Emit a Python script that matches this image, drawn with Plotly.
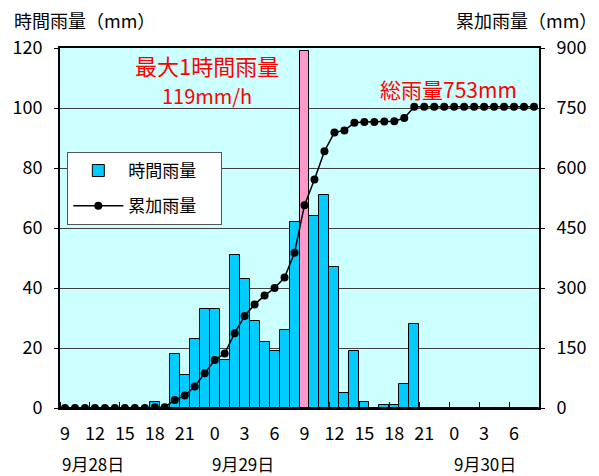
import plotly.graph_objects as go

# ---- data ----
hour_labels = ["9", "12", "15", "18", "21", "0", "3", "6",
               "9", "12", "15", "18", "21", "0", "3", "6"]
date_labels = ["9月28日", "9月29日", "9月30日"]

# hourly rainfall (mm), 48 hours from 9/28 9時 to 9/30 8時
hourly = [0, 0, 0, 0, 0, 0, 0, 0, 0, 2,
          0, 18, 11, 23, 33, 33, 16, 51, 43, 29,
          22, 19, 26, 62, 119, 64, 71, 47, 5, 19,
          2, 0, 1, 1, 8, 28, 0, 0, 0, 0,
          0, 0, 0, 0, 0, 0, 0, 0]

# cumulative rainfall (mm)
cumulative = [0, 0, 0, 0, 0, 0, 0, 0, 0, 2,
              2, 20, 31, 54, 87, 120, 136, 187, 230, 259,
              281, 300, 326, 388, 507, 571, 642, 689, 694, 713,
              715, 715, 716, 717, 725, 753, 753, 753, 753, 753,
              753, 753, 753, 753, 753, 753, 753, 753]

max_index = 24
idx = list(range(len(hourly)))

# ---- layout helpers (pixel -> paper) ----
W, H = 599, 476
L, R, T, B = 57.5, 548, 48, 408


def px(x):
    return (x - L) / (R - L)


def py(y):
    return (B - y) / (B - T)


FONT = "Noto Sans CJK JP, Noto Sans, sans-serif"
NB = "\u00a0"

bar_colors = ["#FF99CC" if i == max_index else "#00CCFF" for i in idx]

fig = go.Figure()
fig.add_trace(go.Bar(
    x=idx, y=hourly, name="時間雨量" + NB * 5,
    marker=dict(color=bar_colors, line=dict(color="black", width=1)),
    width=1.0, legendgroup="a",
))
fig.add_trace(go.Scatter(
    x=idx, y=cumulative, name="累加雨量" + NB * 5, yaxis="y2",
    mode="lines+markers",
    line=dict(color="black", width=1.5),
    marker=dict(color="black", size=8),
    legendgroup="b",
))

fig.update_layout(
    width=W, height=H,
    margin=dict(l=L, r=W - R, t=T, b=H - B),
    paper_bgcolor="white",
    plot_bgcolor="#CCFFFF",
    bargap=0,
    font=dict(family=FONT, size=18, color="black"),
    showlegend=True,
    legend=dict(
        x=px(65), y=py(152), xanchor="left", yanchor="top",
        bgcolor="white", bordercolor="#555555", borderwidth=1,
        font=dict(size=17), traceorder="grouped", tracegroupgap=10,
        itemwidth=50,
    ),
    xaxis=dict(
        range=[-0.5, len(hourly) - 0.5],
        tickmode="array",
        tickvals=idx[::3],
        ticktext=hour_labels,
        ticks="",
        minor=dict(
            tickmode="array",
            tickvals=[i - 0.5 for i in idx[::3]],
            ticks="inside", ticklen=6, tickcolor="black", tickwidth=1,
            showgrid=False,
        ),
        showgrid=False, zeroline=False,
        showline=True, linecolor="black", linewidth=2, mirror=True,
        tickfont=dict(size=18),
        ticklabelstandoff=8,
    ),
    yaxis=dict(
        range=[0, 120], dtick=20,
        showgrid=True, gridcolor="#404040", gridwidth=1,
        zeroline=False,
        showline=True, linecolor="black", linewidth=2,
        ticks="outside", ticklen=4, tickcolor="black",
        tickfont=dict(size=18),
        ticklabelstandoff=8,
    ),
    yaxis2=dict(
        range=[0, 900], dtick=150, overlaying="y", side="right",
        showgrid=False, zeroline=False,
        showline=True, linecolor="black", linewidth=2,
        ticks="outside", ticklen=4, tickcolor="black",
        tickfont=dict(size=18),
        ticklabelstandoff=8,
    ),
)

annotations = [
    dict(text="時間雨量（mm）", x=px(8), y=py(20), xanchor="left", yanchor="middle",
         font=dict(size=18, color="black")),
    dict(text="累加雨量（mm）", x=px(461), y=py(20), xanchor="left", yanchor="middle",
         font=dict(size=18, color="black")),
    dict(text="最大1時間雨量<br><span style='font-size:20px'>119mm/h</span>",
         x=px(208), y=py(79), xanchor="center", yanchor="middle",
         font=dict(size=22, color="#FF0000")),
    dict(text="総雨量753mm", x=px(455), y=py(89), xanchor="center", yanchor="middle",
         font=dict(size=21, color="#FF0000")),
]
date_x = [57, 211, 459]
for lab, xx in zip(date_labels, date_x):
    annotations.append(dict(text=lab, x=px(xx), y=py(464), xanchor="left", yanchor="middle",
                            font=dict(size=17, color="black")))
for a in annotations:
    a.update(xref="paper", yref="paper", showarrow=False)
fig.update_layout(annotations=annotations)

fig.write_html("out.html")
